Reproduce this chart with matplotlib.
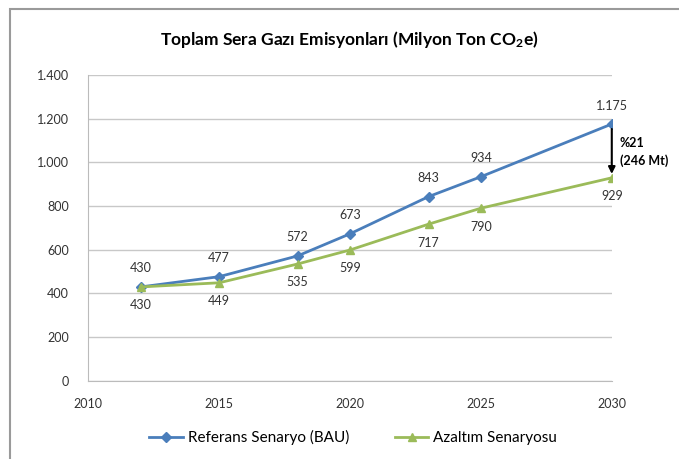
import matplotlib.pyplot as plt
from matplotlib.patches import Rectangle

years = [2012, 2015, 2018, 2020, 2023, 2025, 2030]
bau = [430, 477, 572, 673, 843, 934, 1175]
azaltim = [430, 449, 535, 599, 717, 790, 929]
bau_labels = ['430', '477', '572', '673', '843', '934', '1.175']
az_labels = ['430', '449', '535', '599', '717', '790', '929']
yticks = [0, 200, 400, 600, 800, 1000, 1200, 1400]
ytick_labels = ['0', '200', '400', '600', '800', '1.000', '1.200', '1.400']
xticks = [2010, 2015, 2020, 2025, 2030]

plt.rcParams['font.family'] = ['Lato', 'DejaVu Sans']
plt.rcParams['mathtext.default'] = 'regular'

fig = plt.figure(figsize=(6.79, 4.59), dpi=100)
ax = fig.add_axes([0.130, 0.170, 0.771, 0.667])

# cerceve
fig.patches.append(Rectangle((0.015, -0.01), 1.0, 0.99, transform=fig.transFigure,
                             fill=False, edgecolor='#9a9a9a', linewidth=1.5))

mavi = '#4A7EBB'
yesil = '#9BBB59'
ax.plot(years, bau, color=mavi, marker='D', markersize=5, linewidth=2,
        label='Referans Senaryo (BAU)')
ax.plot(years, azaltim, color=yesil, marker='^', markersize=6, linewidth=2,
        label='Azaltım Senaryosu')

for x, y, t in zip(years, bau, bau_labels):
    ax.annotate(t, (x, y), xytext=(0, 9), textcoords='offset points',
                ha='center', va='bottom', fontsize=9, color='#333333')
for x, y, t in zip(years, azaltim, az_labels):
    ax.annotate(t, (x, y), xytext=(0, -9), textcoords='offset points',
                ha='center', va='top', fontsize=9, color='#333333')

# fark oku
ax.annotate('', xy=(2030, azaltim[-1] + 5), xytext=(2030, bau[-1] - 10),
            arrowprops=dict(arrowstyle='-|>', color='black', lw=1.5))
ax.text(2030.3, 1045, '%21\n(246 Mt)', fontsize=9, fontweight='bold',
        va='center', ha='left', linespacing=1.5, clip_on=False)

ax.set_xlim(2010, 2030)
ax.set_ylim(0, 1400)
ax.set_xticks(xticks)
ax.set_yticks(yticks)
ax.set_yticklabels(ytick_labels)
ax.tick_params(labelsize=9, colors='#333333', length=0)
ax.tick_params(axis='y', pad=14)
ax.tick_params(axis='x', pad=12)
ax.grid(axis='y', color='#c8c8c8', linewidth=1)
ax.set_axisbelow(True)
for s in ['top', 'right']:
    ax.spines[s].set_visible(False)
for s in ['left', 'bottom']:
    ax.spines[s].set_color('#bbbbbb')

fig.text(0.515, 0.915, 'Toplam Sera Gazı Emisyonları (Milyon Ton CO$_2$e)',
         ha='center', va='center', fontsize=12.5, fontweight='bold')

fig.legend(loc='lower center', bbox_to_anchor=(0.52, 0.0), ncol=2, frameon=False,
           fontsize=11, columnspacing=3, handlelength=2.2, handletextpad=0.3)

plt.savefig('out.png', dpi=100)
